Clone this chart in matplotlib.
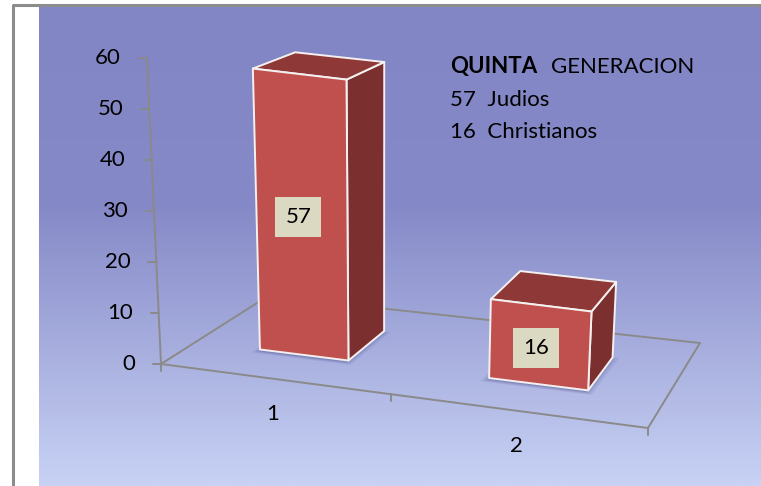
import numpy as np
import matplotlib.pyplot as plt
from matplotlib.colors import LinearSegmentedColormap
from matplotlib.patches import Polygon

plt.rcParams['font.family'] = ['Lato', 'DejaVu Sans']

categories = ['1', '2']
values = [57, 16]
y_ticks = [0, 10, 20, 30, 40, 50, 60]
y_max = 60
note_title = ('QUINTA', 'GENERACION')
note_lines = ['57  Judios', '16  Christianos']

W, H = 761, 486
FS = 16

# pixel geometry of the 3d floor (front-left, front-right, back-right, back-left)
FL = np.array([161.0, 364.0])
FR = np.array([648.0, 428.0])
BR = np.array([700.0, 343.0])
BL = np.array([268.0, 296.0])
VP = np.array([382.0, 5187.0])  # where the verticals meet
D0, D1 = 0.33, 0.73             # bar depth on the floor
HALF = 0.1                      # half bar width, in floor units


def warp(s):
    return s + 0.112 * s * (s - 1)


def floor_pt(s, d):
    s = warp(s)
    left = FL + (BL - FL) * d
    right = FR + (BR - FR) * d
    return left + (right - left) * s


def project(s, d, v):
    p = floor_pt(s, d)
    h = v * (5.1 - 0.52 * d)
    return np.array([p[0] + (p[0] - VP[0]) / (VP[1] - p[1]) * h, p[1] - h])


fig = plt.figure(figsize=(W / 100, H / 100), dpi=100)
ax = fig.add_axes([0, 0, 1, 1])
ax.set_xlim(0, W)
ax.set_ylim(H, 0)
ax.axis('off')

# background gradient
cmap = LinearSegmentedColormap.from_list(
    'bg', [(0, '#8286c5'), (0.42, '#8589c7'), (1, '#c8d2f4')])
grad = np.linspace(0, 1, 256)[:, None]
ax.imshow(grad, cmap=cmap, aspect='auto', extent=[39, W, H, 5],
          zorder=0, interpolation='bilinear')
ax.plot([13, 13, W], [H, 5, 5], color='#8c8c8c', lw=2.2,
        solid_capstyle='butt', zorder=1)

# floor outline
grid_kw = dict(color='#8a8a8a', lw=1.4, zorder=2, solid_capstyle='round')
for a, b in [((0, 0), (1, 0)), ((1, 0), (1, 1)), ((0, 1), (1, 1)),
             ((0, 0), (0, 1))]:
    p, q = floor_pt(*a), floor_pt(*b)
    ax.plot([p[0], q[0]], [p[1], q[1]], **grid_kw)
n = len(categories)
for s in np.linspace(0, 1, n + 1):
    p = floor_pt(s, 0)
    ax.plot([p[0], p[0]], [p[1], p[1] + 7], **grid_kw)
for i, lab in enumerate(categories):
    p = floor_pt((i + 0.5) / n, 0)
    ax.text(p[0], p[1] + 35, lab, ha='center', va='center', fontsize=FS,
            color='black', zorder=6)

# value axis
top, bot = project(0, 0, y_max), project(0, 0, 0)
ax.plot([bot[0], top[0]], [bot[1], top[1]], **grid_kw)
for t in y_ticks:
    p = project(0, 0, t)
    ax.plot([p[0] - 8, p[0]], [p[1], p[1]], **grid_kw)
    ax.text(p[0] - 26, p[1], str(t), ha='right', va='center', fontsize=FS,
            color='black', zorder=6)

# bars
for i, v in enumerate(values):
    c = (i + 0.5) / n
    s0, s1 = c - HALF, c + HALF
    foot = [floor_pt(s0, D0), floor_pt(s1, D0), floor_pt(s1, D1),
            floor_pt(s0, D1)]
    cen = np.mean(foot, axis=0)
    for grow, alpha in [(1.12, 0.10), (1.06, 0.15), (1.0, 0.2)]:
        pts = [cen + (p - cen) * grow + np.array([-1, 2]) for p in foot]
        ax.add_patch(Polygon(pts, closed=True, color='#3c4180', alpha=alpha,
                             lw=0, zorder=3))
    front = [project(s0, D0, 0), project(s1, D0, 0),
             project(s1, D0, v), project(s0, D0, v)]
    side = [project(s1, D0, 0), project(s1, D1, 0),
            project(s1, D1, v), project(s1, D0, v)]
    lid = [project(s0, D0, v), project(s1, D0, v),
           project(s1, D1, v), project(s0, D1, v)]
    for pts, col in [(side, '#7b2f2e'), (lid, '#8e3937'), (front, '#c0504d')]:
        ax.add_patch(Polygon(pts, closed=True, facecolor=col,
                             edgecolor='#f4f0f0', lw=1.4, joinstyle='round',
                             zorder=4))
    mid = (project(0.5 * (s0 + s1), D0, 0) + project(0.5 * (s0 + s1), D0, v)) / 2
    ax.text(mid[0] - 3, mid[1] + 3, str(v), ha='center', va='center',
            fontsize=FS, color='black', zorder=7,
            bbox=dict(boxstyle='square,pad=0.45', facecolor='#dcd9c3',
                      edgecolor='none'))

# note in the top right
ax.text(450, 73, note_title[0], ha='left', va='baseline', fontsize=FS,
        fontweight='bold', color='black', zorder=6)
ax.text(551, 73, note_title[1], ha='left', va='baseline', fontsize=FS,
        color='black', zorder=6)
for j, line in enumerate(note_lines):
    ax.text(450, 106 + 32 * j, line, ha='left', va='baseline', fontsize=FS,
            color='black', zorder=6)

fig.savefig('out.png', dpi=100, facecolor='white')
